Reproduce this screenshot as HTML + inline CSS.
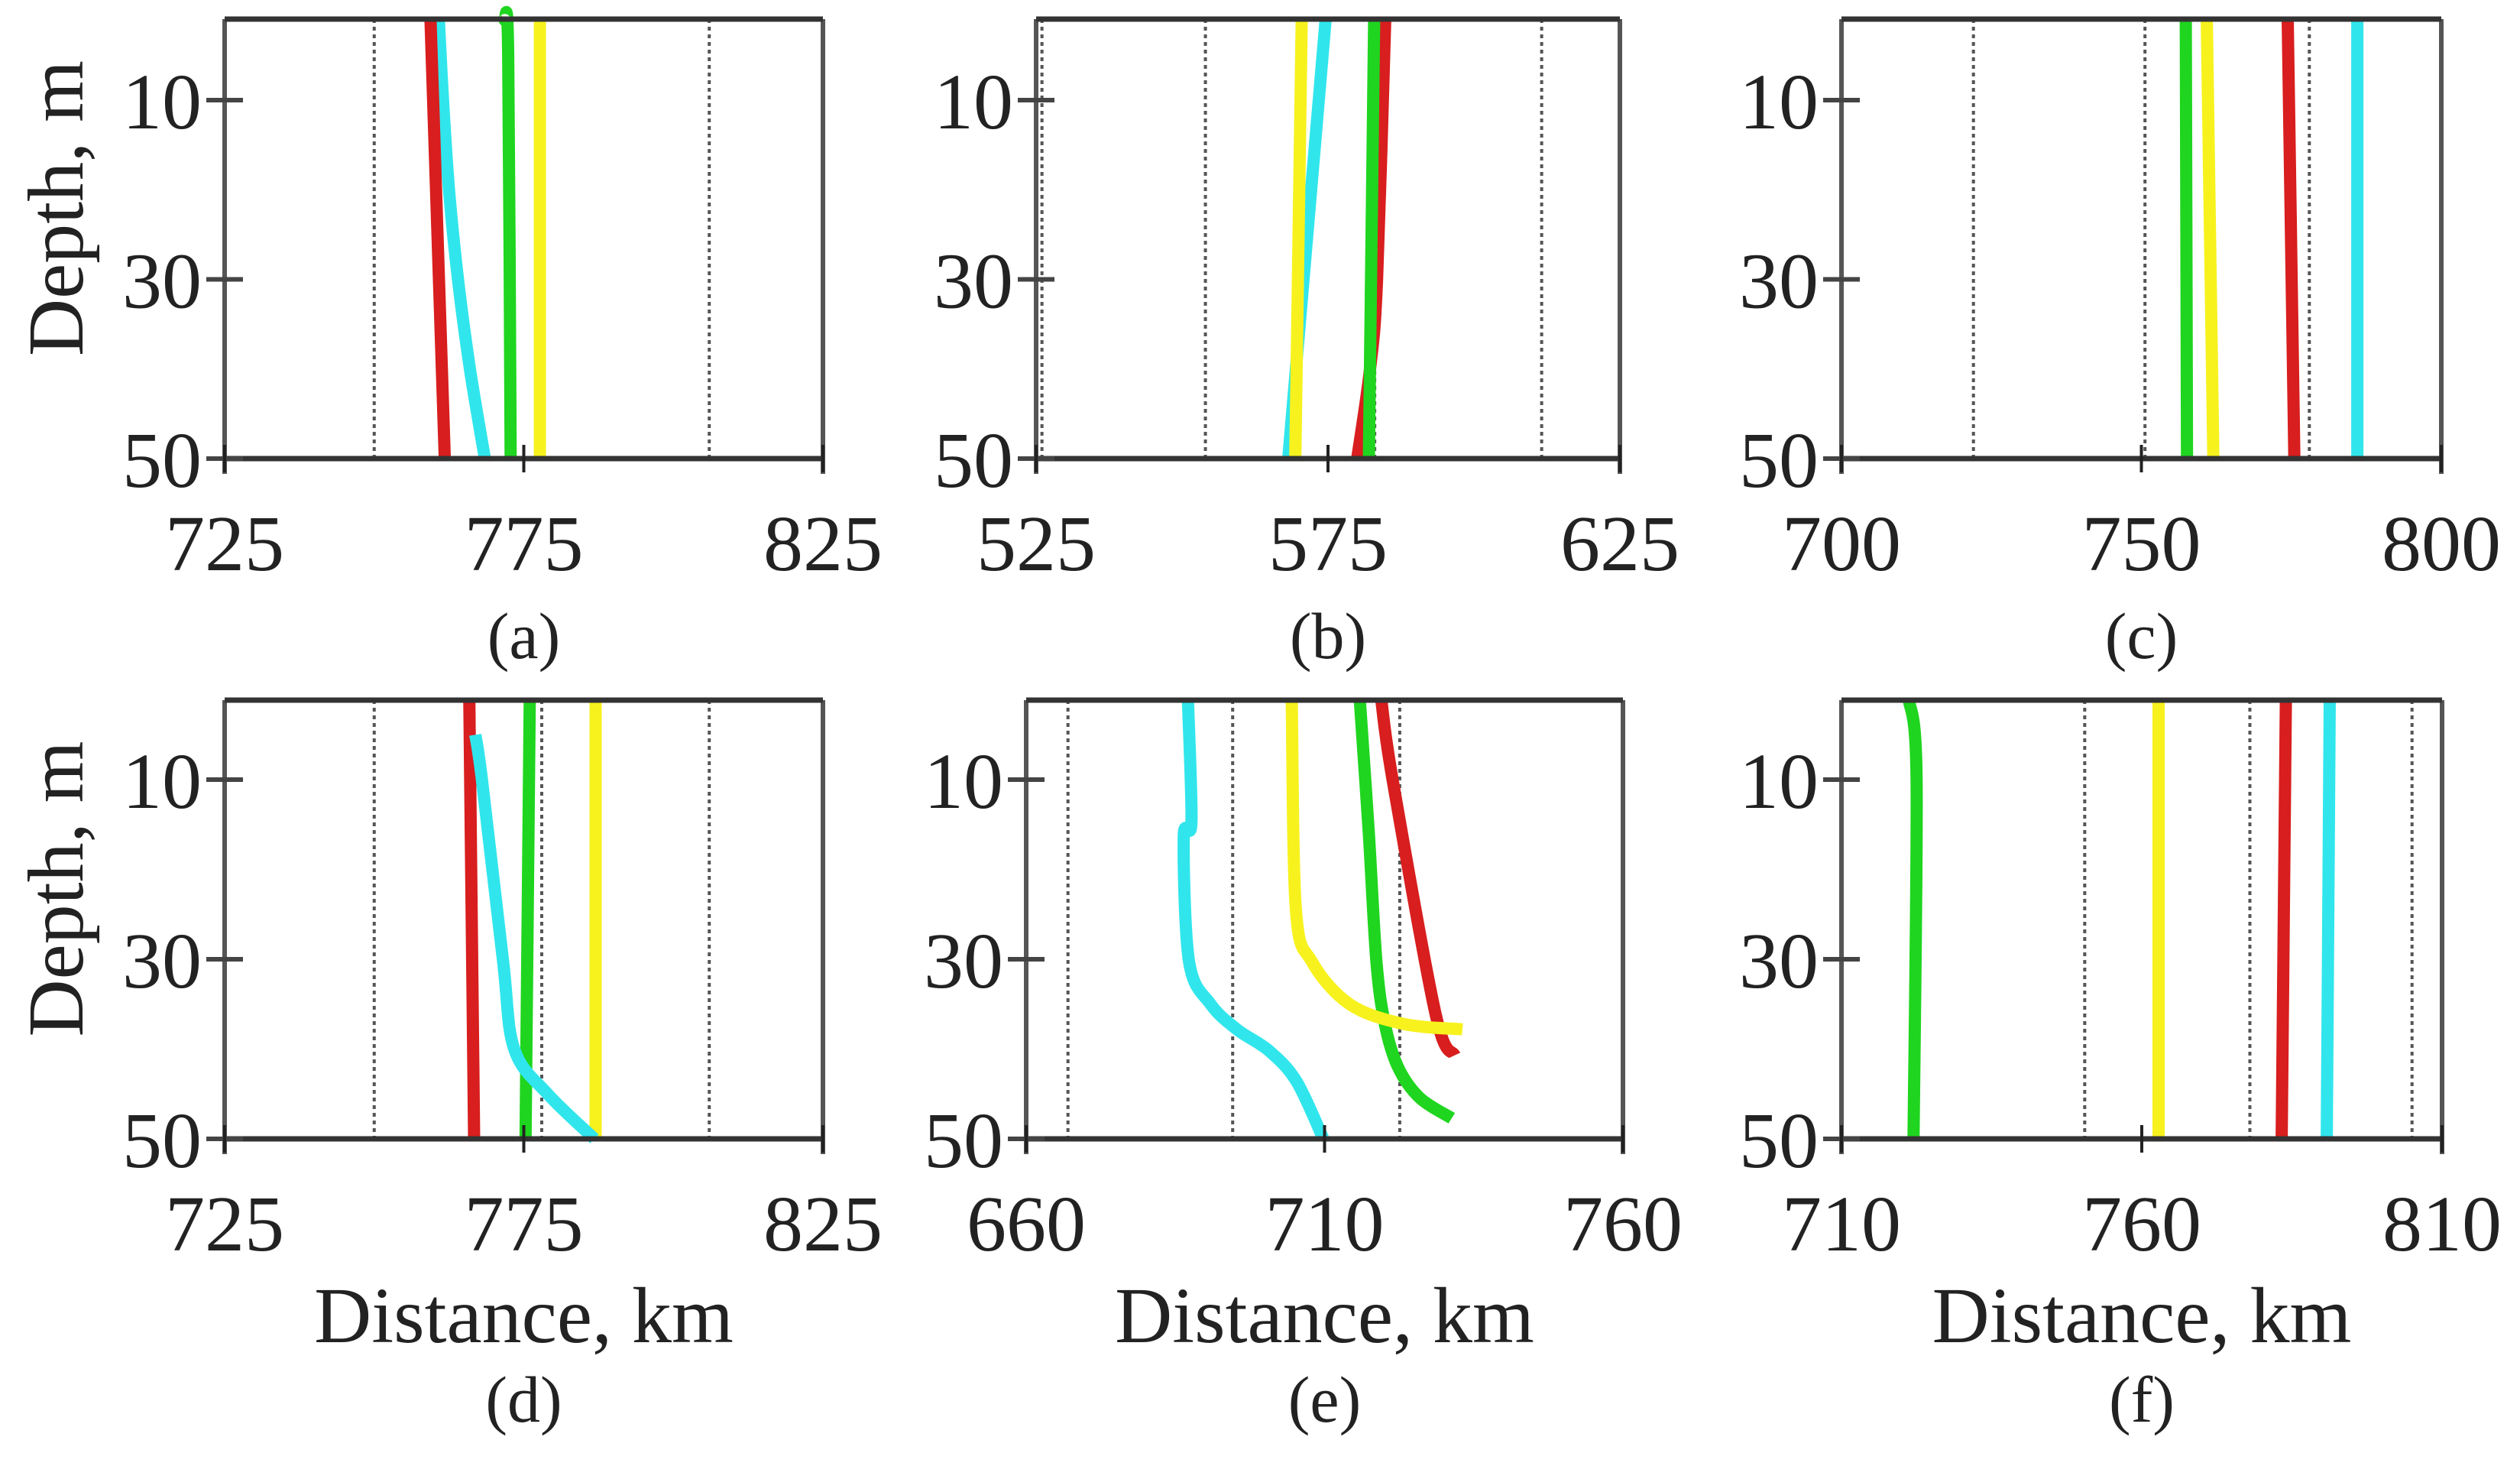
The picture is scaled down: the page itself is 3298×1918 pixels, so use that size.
<!DOCTYPE html>
<html><head><meta charset="utf-8">
<style>
html,body{margin:0;padding:0;background:#fff;}
svg{display:block;}
text{font-family:"Liberation Serif",serif;fill:#222;}
</style></head>
<body>
<svg id="fig" width="3298" height="1918" viewBox="0 0 3298 1918" xmlns="http://www.w3.org/2000/svg"></svg>
<script>
// ---- data ----
const depthTicks = [10, 30, 50];
const panelLabels = ["(a)", "(b)", "(c)", "(d)", "(e)", "(f)"];
const xTicksA = [725, 775, 825];
const xTicksB = [525, 575, 625];
const xTicksC = [700, 750, 800];
const xTicksD = [725, 775, 825];
const xTicksE = [660, 710, 760];
const xTicksF = [710, 760, 810];
const gridA = [750, 778, 806];
const gridB = [526, 554, 583, 611.6];
const gridC = [722, 750.6, 778];
const gridD = [750, 778, 806];
const gridE = [667, 694.6, 722.6];
const gridF = [750.5, 778, 805];
const aRedD = [1, 50], aRedX = [759.4, 761.8];
const aCyanD = [1, 10, 20, 30, 40, 50], aCyanX = [760.8, 761.5, 762.5, 764, 766, 768.5];
const aGreenD = [1, 5, 50], aGreenX = [771.8, 772.4, 772.8];
const aYellowD = [1, 50], aYellowX = [777.7, 777.7];
const bYellowD = [1, 50], bYellowX = [570.5, 569.4];
const bCyanD = [1, 50], bCyanX = [574.6, 568.2];
const bGreenD = [1, 50], bGreenX = [582.9, 582];
const bRedD = [1, 30, 40, 50], bRedX = [584.8, 583.4, 582.2, 580];
const cGreenD = [1, 50], cGreenX = [757.4, 757.6];
const cYellowD = [1, 50], cYellowX = [760.9, 762];
const cRedD = [1, 50], cRedX = [774.4, 775.5];
const cCyanD = [1, 50], cCyanX = [786, 786];
const dRedD = [1, 50], dRedX = [765.9, 766.7];
const dCyanD = [5, 10, 30, 40, 45, 50], dCyanX = [766.9, 768, 771.5, 773.4, 779, 786.8];
const dGreenD = [1, 50], dGreenX = [776, 775.3];
const dYellowD = [1, 50], dYellowX = [787, 787];
const eCyanD = [1.1, 14.7, 16.4, 30.3, 35, 37.8, 40.2, 43.6, 50], eCyanX = [687.1, 687.7, 686.4, 687.3, 690.9, 695.3, 700.7, 705.3, 709.8];
const eYellowD = [1.1, 24.5, 30.3, 35, 37.2, 37.8], eYellowX = [704.5, 705.2, 707.9, 714.2, 723.2, 733.1];
const eGreenD = [1.1, 15.8, 30.3, 37.2, 42, 45.4, 47.7], eGreenX = [715.9, 717.4, 718.7, 720.1, 722.3, 725.9, 731.3];
const eRedD = [1.1, 10, 36.1, 40.7], eRedX = [719.5, 721.4, 728.6, 731.8];
const fGreenD = [1, 10, 50], fGreenX = [721.2, 722.5, 722];
const fYellowD = [1, 50], fYellowX = [762.8, 762.8];
const fRedD = [1, 50], fRedX = [784, 783.3];
const fCyanD = [1, 50], fCyanX = [791.3, 790.8];

const COL = {red:"#d81e1e", cyan:"#30e6ec", green:"#1fd51f", yellow:"#f7f21e"};
const panels = [
 {id:"a", L:294, R:1077, T:25, B:600, t10:131, ticks:xTicksA, grid:gridA, series:[["cyan",aCyanD,aCyanX],["red",aRedD,aRedX],["green",aGreenD,aGreenX],["yellow",aYellowD,aYellowX]]},
 {id:"b", L:1356, R:2120, T:25, B:600, t10:131, ticks:xTicksB, grid:gridB, series:[["red",bRedD,bRedX],["green",bGreenD,bGreenX],["cyan",bCyanD,bCyanX],["yellow",bYellowD,bYellowX]]},
 {id:"c", L:2410, R:3195, T:25, B:600, t10:131, ticks:xTicksC, grid:gridC, series:[["green",cGreenD,cGreenX],["yellow",cYellowD,cYellowX],["red",cRedD,cRedX],["cyan",cCyanD,cCyanX]]},
 {id:"d", L:294, R:1077, T:916, B:1490, t10:1020, ticks:xTicksD, grid:gridD, series:[["red",dRedD,dRedX],["green",dGreenD,dGreenX],["yellow",dYellowD,dYellowX],["cyan",dCyanD,dCyanX]]},
 {id:"e", L:1343, R:2124, T:916, B:1490, t10:1020, ticks:xTicksE, grid:gridE, series:[["cyan",eCyanD,eCyanX],["red",eRedD,eRedX],["green",eGreenD,eGreenX],["yellow",eYellowD,eYellowX]]},
 {id:"f", L:2410, R:3196, T:916, B:1490, t10:1020, ticks:xTicksF, grid:gridF, series:[["green",fGreenD,fGreenX],["yellow",fYellowD,fYellowX],["red",fRedD,fRedX],["cyan",fCyanD,fCyanX]]}
];
const NS = "http://www.w3.org/2000/svg";
const svg = document.getElementById("fig");
function mk(tag, attrs, parent){const e=document.createElementNS(NS,tag);for(const k in attrs)e.setAttribute(k,attrs[k]);(parent||svg).appendChild(e);return e;}
function smooth(P){
  if (P.length < 3) return "M" + P.map(p => p[0].toFixed(1) + "," + p[1].toFixed(1)).join(" L");
  let d = "M" + P[0][0].toFixed(1) + "," + P[0][1].toFixed(1);
  for (let i = 0; i < P.length - 1; i++) {
    const p0 = P[Math.max(0, i-1)], p1 = P[i], p2 = P[i+1], p3 = P[Math.min(P.length-1, i+2)];
    const c1 = [p1[0] + (p2[0]-p0[0])/6, p1[1] + (p2[1]-p0[1])/6];
    const c2 = [p2[0] - (p3[0]-p1[0])/6, p2[1] - (p3[1]-p1[1])/6];
    d += " C" + c1[0].toFixed(1) + "," + c1[1].toFixed(1) + " " + c2[0].toFixed(1) + "," + c2[1].toFixed(1) + " " + p2[0].toFixed(1) + "," + p2[1].toFixed(1);
  }
  return d;
}

panels.forEach((p, i) => {
  const g = mk("g", {});
  
  
  const x0 = p.ticks[0], x1 = p.ticks[p.ticks.length-1];
  const xs = v => p.L + (v - x0) / (x1 - x0) * (p.R - p.L);
  const pxPerM = (p.B - p.t10) / 40;
  const ys = d => p.t10 + (d - 10) * pxPerM;
  p.grid.forEach(v => {
    const l = mk("line", {x1:xs(v), x2:xs(v), y1:p.T, y2:p.B, stroke:"#555", "stroke-width":4, "stroke-dasharray":"5,5"}, g);
    
    
  });
  p.series.forEach(s => {
    const [c, D, X] = s;
    const P = D.map((d, k) => [xs(X[k]), ys(d)]);
    const pl = mk("path", {d:smooth(P), fill:"none", stroke:COL[c], "stroke-width":16, "stroke-linejoin":"round", "stroke-linecap":"butt"}, g);
    
    
  });
  mk("line", {x1:p.L, x2:p.L, y1:p.T, y2:p.B+20, stroke:"#555", "stroke-width":6}, g);
  mk("line", {x1:p.R, x2:p.R, y1:p.T, y2:p.B+20, stroke:"#555", "stroke-width":6}, g);
  const top = mk("line", {x1:p.L, x2:p.R, y1:p.T, y2:p.T, stroke:"#333", "stroke-width":7}, g);
  
  
  const bot = mk("line", {x1:p.L, x2:p.R, y1:p.B, y2:p.B, stroke:"#333", "stroke-width":7}, g);
  
  
  depthTicks.forEach(d => {
    mk("line", {x1:p.L-24, x2:p.L+24, y1:ys(d), y2:ys(d), stroke:"#444", "stroke-width":6}, g);
    const t = mk("text", {x:p.L-30, y:ys(d)+37, "font-size":104, "text-anchor":"end"}, g);
    t.textContent = d;
    
    
  });
  p.ticks.forEach(v => {
    mk("line", {x1:xs(v), x2:xs(v), y1:p.B-18, y2:p.B+18, stroke:"#222", "stroke-width":4}, g);
    const t = mk("text", {x:xs(v), y:p.B+146, "font-size":104, "text-anchor":"middle"}, g);
    t.textContent = v;
    
    
  });
  const cx = (p.L + p.R) / 2;
  if (p.T > 500) {
    const xt = mk("text", {x:cx, y:p.B+266, "font-size":104, "text-anchor":"middle"}, g);
    xt.textContent = "Distance, km";
    
    
  }
  const lab = mk("text", {x:cx, y:p.T > 500 ? p.B+370 : p.B+261, "font-size":86, "text-anchor":"middle"}, g);
  lab.textContent = panelLabels[i];
  
  
  if (p.L < 400) {
    const cy = (p.T + p.B) / 2 - 40;
    const yt = mk("text", {x:0, y:0, "font-size":104, "text-anchor":"middle", transform:"translate(108," + cy + ") rotate(-90)"}, g);
    yt.textContent = "Depth, m";
    
    
  }
});
</script>
</body></html>
